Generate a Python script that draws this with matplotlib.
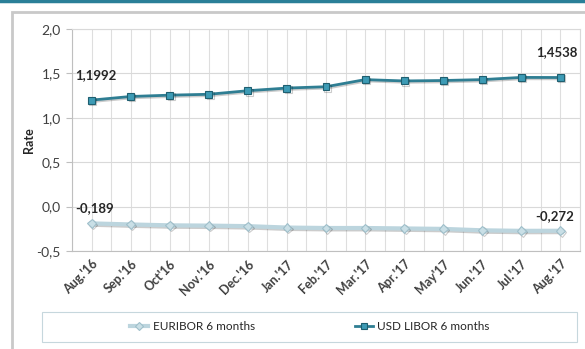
import matplotlib
matplotlib.use('Agg')
import matplotlib.pyplot as plt
import matplotlib.patheffects as pe
from matplotlib.patches import Rectangle
from matplotlib.lines import Line2D
from matplotlib.ticker import FuncFormatter, MultipleLocator

months = ["Aug.'16", "Sep.'16", "Oct'16", "Nov.'16", "Dec.'16", "Jan.'17", "Feb.'17",
          "Mar.'17", "Apr.'17", "May'17", "Jun.'17", "Jul.'17", "Aug.'17"]
euribor = [-0.189, -0.201, -0.211, -0.214, -0.220, -0.236, -0.241,
           -0.241, -0.246, -0.251, -0.267, -0.273, -0.272]
libor = [1.1992, 1.24, 1.255, 1.265, 1.305, 1.335, 1.35,
         1.43, 1.415, 1.42, 1.43, 1.455, 1.4538]
series_names = ["EURIBOR 6 months", "USD LIBOR 6 months"]

plt.rcParams['font.family'] = ['Lato', 'DejaVu Sans']

W, H = 585, 349
fig = plt.figure(figsize=(W / 100, H / 100), dpi=100)
fig.patch.set_facecolor('white')

# outer frame
fig.add_artist(Line2D([0, 1], [1 - 1 / H, 1 - 1 / H], color='#2a7f98', lw=2.5,
                      transform=fig.transFigure))
fig.add_artist(Rectangle((12 / W, -0.1), 1.2, 1 - 12 / H + 0.1, transform=fig.transFigure,
                         fill=False, edgecolor='#c9c9c9', lw=2))

ax = fig.add_axes([72 / W, 1 - 251 / H, 508 / W, 222 / H])
x = list(range(len(months)))

eur_style = dict(color='#bcd5de', lw=3, marker='D', ms=4.5, mfc='#c9dfe6', mec='#9fbfca', mew=0.8)
usd_style = dict(color='#2f7e93', lw=2, marker='s', ms=5, mfc='#3d9bb5', mec='#1f5f70', mew=0.8)

shadow = [pe.SimpleLineShadow(offset=(1.0, -1.0), alpha=0.2), pe.Normal()]
ax.plot(x, euribor, path_effects=shadow, zorder=3, **eur_style)
ax.plot(x, libor, path_effects=shadow, zorder=4, **usd_style)

ax.set_xlim(-0.5, len(months) - 0.5)
ax.set_ylim(-0.5, 2.0)
ax.yaxis.set_major_locator(MultipleLocator(0.5))
ax.yaxis.set_major_formatter(FuncFormatter(lambda v, p: f"{v:.1f}".replace('.', ',')))
ax.set_xticks(x)
ax.set_xticks([i - 0.5 for i in range(len(months) + 1)], minor=True)
ax.set_xticklabels(months, rotation=45, ha='right', rotation_mode='anchor',
                   fontsize=9, fontweight='bold', color='#404040')
ax.tick_params(axis='x', which='both', length=0, pad=5)
ax.tick_params(axis='y', length=4, color='#bfbfbf', labelsize=10, labelcolor='#404040', pad=4)

ax.grid(True, which='major', axis='y', color='#d9d9d9', lw=0.8)
ax.grid(True, which='both', axis='x', color='#dedede', lw=0.8)
ax.set_axisbelow(True)
for s in ax.spines.values():
    s.set_color('#bfbfbf')
    s.set_linewidth(0.8)
for s in ['top', 'right']:
    ax.spines[s].set_color('#d9d9d9')

ax.set_ylabel('Rate', fontsize=9, fontweight='bold', color='#262626')
ax.yaxis.set_label_coords(-0.072, 0.5)

fmt = lambda v, n: f"{v:.{n}f}".replace('.', ',')
ax.annotate(fmt(libor[0], 4), (x[0], libor[0]), xytext=(-12, 14), textcoords='offset points',
            fontsize=9.5, fontweight='bold', color='#262626', ha='left', va='bottom')
ax.annotate(fmt(libor[-1], 4), (x[-1], libor[-1]), xytext=(12, 14), textcoords='offset points',
            fontsize=9.5, fontweight='bold', color='#262626', ha='right', va='bottom')
ax.annotate(fmt(euribor[0], 3), (x[0], euribor[0]), xytext=(-12, 7), textcoords='offset points',
            fontsize=9.5, fontweight='bold', color='#262626', ha='left', va='bottom')
ax.annotate(fmt(euribor[-1], 3), (x[-1], euribor[-1]), xytext=(10, 6), textcoords='offset points',
            fontsize=9.5, fontweight='bold', color='#262626', ha='right', va='bottom')

# legend box
fig.add_artist(Rectangle((42 / W, 1 - 342 / H), 535 / W, 30 / H, transform=fig.transFigure,
                         facecolor='white', edgecolor='#c6d7dd', lw=0.8))
handles = [Line2D([], [], **eur_style), Line2D([], [], **usd_style)]
fig.legend(handles, series_names, loc='center', bbox_to_anchor=(310 / W, 1 - 327 / H),
           ncol=2, frameon=False, fontsize=8.5, columnspacing=8.5, handlelength=1.5,
           handletextpad=0.4, labelcolor='#262626')

fig.savefig('out.png', dpi=100, facecolor='white')
